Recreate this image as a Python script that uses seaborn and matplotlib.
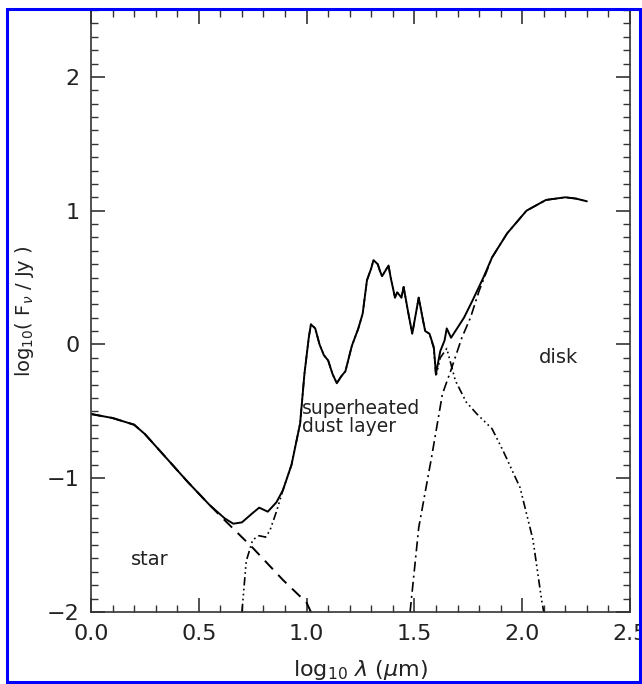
import matplotlib
matplotlib.use("Agg")
import matplotlib.pyplot as plt
import seaborn as sns
from matplotlib.patches import Rectangle
from matplotlib.ticker import MultipleLocator

# ---- data ----
total_x = [0.00, 0.10, 0.20, 0.25, 0.35, 0.45, 0.55, 0.62, 0.66, 0.70, 0.75, 0.78, 0.82, 0.86, 0.89,
           0.93, 0.97, 0.99, 1.01, 1.02, 1.04, 1.06, 1.08, 1.10, 1.12, 1.14, 1.16, 1.18, 1.21, 1.24,
           1.26, 1.28, 1.30, 1.31, 1.33, 1.34, 1.35, 1.38, 1.39, 1.41, 1.42, 1.44, 1.45, 1.47, 1.49,
           1.52, 1.54, 1.55, 1.57, 1.59, 1.60, 1.62, 1.64, 1.65, 1.67, 1.69, 1.73, 1.77, 1.82, 1.86,
           1.93, 2.02, 2.11, 2.20, 2.25, 2.30]
total_y = [-0.52, -0.55, -0.60, -0.67, -0.85, -1.03, -1.20, -1.30, -1.34, -1.33, -1.26, -1.22, -1.25, -1.18, -1.09,
           -0.90, -0.59, -0.22, 0.05, 0.15, 0.12, 0.00, -0.08, -0.12, -0.22, -0.29, -0.24, -0.20, -0.01, 0.12,
           0.23, 0.48, 0.57, 0.63, 0.60, 0.55, 0.51, 0.59, 0.50, 0.35, 0.39, 0.35, 0.43, 0.25, 0.08,
           0.35, 0.18, 0.10, 0.08, -0.02, -0.22, -0.05, 0.03, 0.12, 0.05, 0.10, 0.20, 0.33, 0.50, 0.65,
           0.83, 1.00, 1.08, 1.10, 1.09, 1.07]

star_x = [0.00, 0.10, 0.20, 0.25, 0.35, 0.45, 0.55, 0.63, 0.75, 0.89, 1.00, 1.02]
star_y = [-0.52, -0.55, -0.60, -0.67, -0.85, -1.03, -1.20, -1.33, -1.52, -1.76, -1.93, -2.00]

dust_x = [0.70, 0.72, 0.75, 0.78, 0.81, 0.83, 0.86, 0.89, 0.93, 0.97, 0.99, 1.01, 1.02, 1.04, 1.06,
          1.08, 1.10, 1.12, 1.14, 1.16, 1.18, 1.21, 1.24, 1.26, 1.28, 1.30, 1.31, 1.33, 1.34, 1.35,
          1.38, 1.39, 1.41, 1.42, 1.44, 1.45, 1.47, 1.49, 1.52, 1.54, 1.55, 1.57, 1.59, 1.60, 1.62,
          1.65, 1.69, 1.74, 1.79, 1.86, 1.91, 1.99, 2.05, 2.09, 2.10]
dust_y = [-2.00, -1.62, -1.46, -1.43, -1.44, -1.39, -1.25, -1.09, -0.90, -0.59, -0.22, 0.05, 0.15, 0.12, 0.00,
          -0.08, -0.12, -0.22, -0.29, -0.24, -0.20, -0.01, 0.12, 0.23, 0.48, 0.57, 0.63, 0.60, 0.55, 0.51,
          0.59, 0.50, 0.35, 0.39, 0.35, 0.43, 0.25, 0.08, 0.35, 0.18, 0.10, 0.08, -0.03, -0.24, -0.10,
          -0.03, -0.27, -0.43, -0.52, -0.63, -0.79, -1.07, -1.46, -1.91, -2.00]

disk_x = [1.48, 1.52, 1.58, 1.63, 1.67, 1.72, 1.76, 1.80, 1.86, 1.93, 2.02, 2.11, 2.20, 2.25, 2.30]
disk_y = [-2.00, -1.37, -0.84, -0.37, -0.19, 0.05, 0.20, 0.40, 0.65, 0.83, 1.00, 1.08, 1.10, 1.09, 1.07]

x_ticks = [0.0, 0.5, 1.0, 1.5, 2.0, 2.5]
x_tick_labels = ["0.0", "0.5", "1.0", "1.5", "2.0", "2.5"]
y_ticks = [-2, -1, 0, 1, 2]
y_tick_labels = ["\u22122", "\u22121", "0", "1", "2"]

# ---- figure ----
sns.set_style("ticks")
plt.rcParams["font.family"] = ["DejaVu Sans"]
fig = plt.figure(figsize=(6.42, 6.84), dpi=100)
ax = fig.add_axes([91 / 642, 72 / 684, 539 / 642, 602 / 684])

sns.lineplot(x=disk_x, y=disk_y, ax=ax, color="black", lw=1.2, estimator=None, sort=False,
             linestyle=(0, (6, 2.5, 1.2, 2.5)))
sns.lineplot(x=dust_x, y=dust_y, ax=ax, color="black", lw=1.2, estimator=None, sort=False,
             linestyle=(0, (5, 2, 1, 2, 1, 2, 1, 2)))
sns.lineplot(x=star_x, y=star_y, ax=ax, color="black", lw=1.4, estimator=None, sort=False,
             linestyle=(0, (6, 4)))
sns.lineplot(x=total_x, y=total_y, ax=ax, color="black", lw=1.4, estimator=None, sort=False)

ax.set_xlim(0, 2.5)
ax.set_ylim(-2, 2.5)
ax.set_xticks(x_ticks)
ax.set_xticklabels(x_tick_labels)
ax.set_yticks(y_ticks)
ax.set_yticklabels(y_tick_labels)
ax.xaxis.set_minor_locator(MultipleLocator(0.1))
ax.yaxis.set_minor_locator(MultipleLocator(0.1))
ax.tick_params(which="both", direction="in", top=True, right=True, colors="#333333",
               labelcolor="#222222")
ax.tick_params(which="major", length=10, width=1.2, labelsize=16)
ax.tick_params(which="minor", length=5, width=1.0)
ax.tick_params(axis="x", which="major", pad=9)
ax.tick_params(axis="y", which="major", pad=8)
for s in ax.spines.values():
    s.set_color("#333333")
    s.set_linewidth(1.2)

ax.set_xlabel(r"log$_{10}$ $\lambda$ ($\mu$m)", fontsize=16, color="#222222", labelpad=10)
ax.set_ylabel(r"log$_{10}$( F$_\nu$ / Jy )", fontsize=14, color="#222222", labelpad=8)

ax.text(0.273, -1.61, "star", fontsize=14, color="#222222", ha="center", va="center")
ax.text(0.98, -0.48, "superheated", fontsize=13.5, color="#222222", ha="left", va="center")
ax.text(0.98, -0.61, "dust layer", fontsize=13.5, color="#222222", ha="left", va="center")
ax.text(2.17, -0.10, "disk", fontsize=14, color="#222222", ha="center", va="center")

fig.patches.append(Rectangle((7 / 642, 2 / 684), 633 / 642, 673 / 684, transform=fig.transFigure,
                             fill=False, edgecolor="#0000ff", linewidth=2.2))

fig.savefig("out.png", dpi=100)
